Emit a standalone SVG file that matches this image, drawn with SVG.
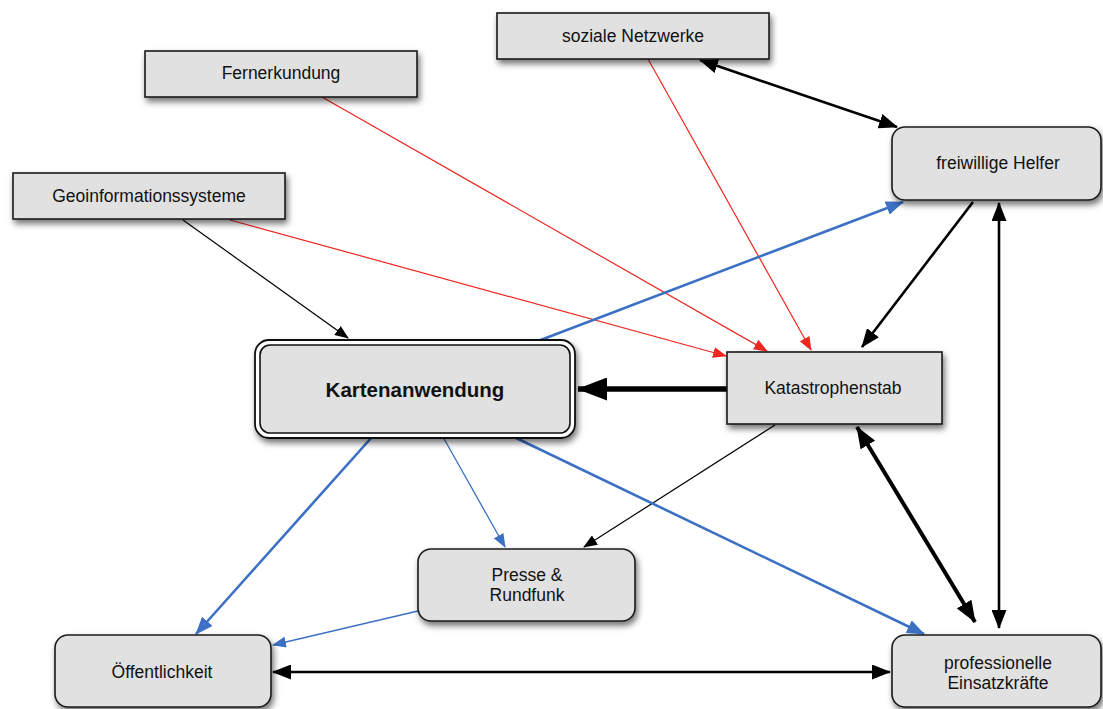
<svg xmlns="http://www.w3.org/2000/svg" width="1103" height="709" viewBox="0 0 1103 709">
<style>
.box{fill:#e1e1e1;stroke:#1a1a1a;stroke-width:1.6;filter:url(#sh)}
.t{font-family:"Liberation Sans",Arial,sans-serif;font-size:17.5px;fill:#111;text-anchor:middle}
.tb{font-family:"Liberation Sans",Arial,sans-serif;font-size:20.5px;font-weight:bold;fill:#111;text-anchor:middle}
.c{fill:none;stroke-linecap:butt}
.red{stroke:#f0261f;stroke-width:1.2}
.bk1{stroke:#000;stroke-width:1.2}
.bk2{stroke:#000;stroke-width:2.6}
.bk3{stroke:#000;stroke-width:4}
.bk5{stroke:#000;stroke-width:5.5}
.bl1{stroke:#3b70c4;stroke-width:1.3}
.bl2{stroke:#3b70c4;stroke-width:2.6}
</style>
<defs>
<filter id="sh" x="-10%" y="-20%" width="130%" height="160%">
<feDropShadow dx="2" dy="4" stdDeviation="3" flood-color="#000" flood-opacity="0.55"/>
</filter>
<marker id="aR" markerUnits="userSpaceOnUse" markerWidth="14" markerHeight="11" refX="13" refY="5.5" orient="auto-start-reverse" viewBox="0 0 14 11"><path d="M0,0 L14,5.5 L0,11 z" fill="#f0261f"/></marker>
<marker id="aK1" markerUnits="userSpaceOnUse" markerWidth="14" markerHeight="11" refX="13" refY="5.5" orient="auto-start-reverse" viewBox="0 0 14 11"><path d="M0,0 L14,5.5 L0,11 z" fill="#000"/></marker>
<marker id="aK2" markerUnits="userSpaceOnUse" markerWidth="19" markerHeight="15" refX="18" refY="7.5" orient="auto-start-reverse" viewBox="0 0 19 15"><path d="M0,0 L19,7.5 L0,15 z" fill="#000"/></marker>
<marker id="aK3" markerUnits="userSpaceOnUse" markerWidth="22" markerHeight="17" refX="21" refY="8.5" orient="auto-start-reverse" viewBox="0 0 22 17"><path d="M0,0 L22,8.5 L0,17 z" fill="#000"/></marker>
<marker id="aK5" markerUnits="userSpaceOnUse" markerWidth="30" markerHeight="23" refX="29" refY="11.5" orient="auto-start-reverse" viewBox="0 0 30 23"><path d="M0,0 L30,11.5 L0,23 z" fill="#000"/></marker>
<marker id="aB1" markerUnits="userSpaceOnUse" markerWidth="14" markerHeight="11" refX="13" refY="5.5" orient="auto-start-reverse" viewBox="0 0 14 11"><path d="M0,0 L14,5.5 L0,11 z" fill="#3b70c4"/></marker>
<marker id="aB2" markerUnits="userSpaceOnUse" markerWidth="18" markerHeight="14" refX="17" refY="7" orient="auto-start-reverse" viewBox="0 0 18 14"><path d="M0,0 L18,7 L0,14 z" fill="#3b70c4"/></marker>
</defs>
<rect width="1103" height="709" fill="#fff"/>

<g id="connectors">
<line class="c bk1" x1="183" y1="220" x2="348" y2="338" marker-end="url(#aK1)"/>
<line class="c red" x1="230" y1="220" x2="726" y2="356" marker-end="url(#aR)"/>
<line class="c red" x1="322" y1="97" x2="767" y2="351" marker-end="url(#aR)"/>
<line class="c red" x1="648" y1="59" x2="811" y2="350" marker-end="url(#aR)"/>
<line class="c bk2" x1="700" y1="60" x2="897" y2="127" marker-start="url(#aK2)" marker-end="url(#aK2)"/>
<line class="c bl2" x1="538" y1="341" x2="903" y2="202" marker-end="url(#aB2)"/>
<line class="c bk2" x1="973" y1="202" x2="862" y2="347" marker-end="url(#aK2)"/>
<line class="c bk2" x1="999" y1="203" x2="999" y2="628" marker-start="url(#aK2)" marker-end="url(#aK2)"/>
<line class="c bk5" x1="728" y1="389" x2="578" y2="389" marker-end="url(#aK5)"/>
<line class="c bk3" x1="857" y1="427" x2="975" y2="622" marker-start="url(#aK3)" marker-end="url(#aK3)"/>
<line class="c bk1" x1="775" y1="425" x2="584" y2="547" marker-end="url(#aK1)"/>
<line class="c bl1" x1="443" y1="437" x2="505" y2="547" marker-end="url(#aB1)"/>
<line class="c bl2" x1="372" y1="437" x2="196" y2="634" marker-end="url(#aB2)"/>
<line class="c bl2" x1="512" y1="436" x2="924" y2="634" marker-end="url(#aB2)"/>
<line class="c bl1" x1="418" y1="611" x2="273" y2="645" marker-end="url(#aB1)"/>
<line class="c bk2" x1="273" y1="672" x2="890" y2="672" marker-start="url(#aK2)" marker-end="url(#aK2)"/>
</g>

<g id="n-fernerkundung">
<rect class="box" x="145" y="51" width="272" height="46"/>
<text class="t" x="281" y="79">Fernerkundung</text>
</g>
<g id="n-geoinformationssysteme">
<rect class="box" x="13" y="173" width="272" height="46"/>
<text class="t" x="149" y="202">Geoinformationssysteme</text>
</g>
<g id="n-soziale-netzwerke">
<rect class="box" x="497" y="13" width="272" height="46"/>
<text class="t" x="633" y="42">soziale Netzwerke</text>
</g>
<g id="n-freiwillige-helfer">
<rect class="box" x="892" y="127" width="209" height="73" rx="13"/>
<text class="t" x="998" y="169">freiwillige Helfer</text>
</g>
<g id="n-kartenanwendung">
<rect x="255" y="340" width="320" height="98" rx="14" fill="#fff" stroke="#111" stroke-width="1.8" filter="url(#sh)"/>
<rect x="260" y="345" width="310" height="88" rx="10" fill="#e1e1e1" stroke="#111" stroke-width="1.6"/>
<text class="tb" x="415" y="397">Kartenanwendung</text>
</g>
<g id="n-katastrophenstab">
<rect class="box" x="727" y="352" width="215" height="72"/>
<text class="t" x="833" y="394">Katastrophenstab</text>
</g>
<g id="n-presse">
<rect class="box" x="418" y="549" width="217" height="72" rx="13"/>
<text class="t" x="527" y="581">Presse &amp;</text>
<text class="t" x="527" y="601">Rundfunk</text>
</g>
<g id="n-oeffentlichkeit">
<rect class="box" x="55" y="635" width="216" height="72" rx="13"/>
<text class="t" x="162" y="678">Öffentlichkeit</text>
</g>
<g id="n-professionelle">
<rect class="box" x="892" y="635" width="209" height="72" rx="13"/>
<text class="t" x="998" y="669">professionelle</text>
<text class="t" x="998" y="689">Einsatzkräfte</text>
</g>
</svg>
